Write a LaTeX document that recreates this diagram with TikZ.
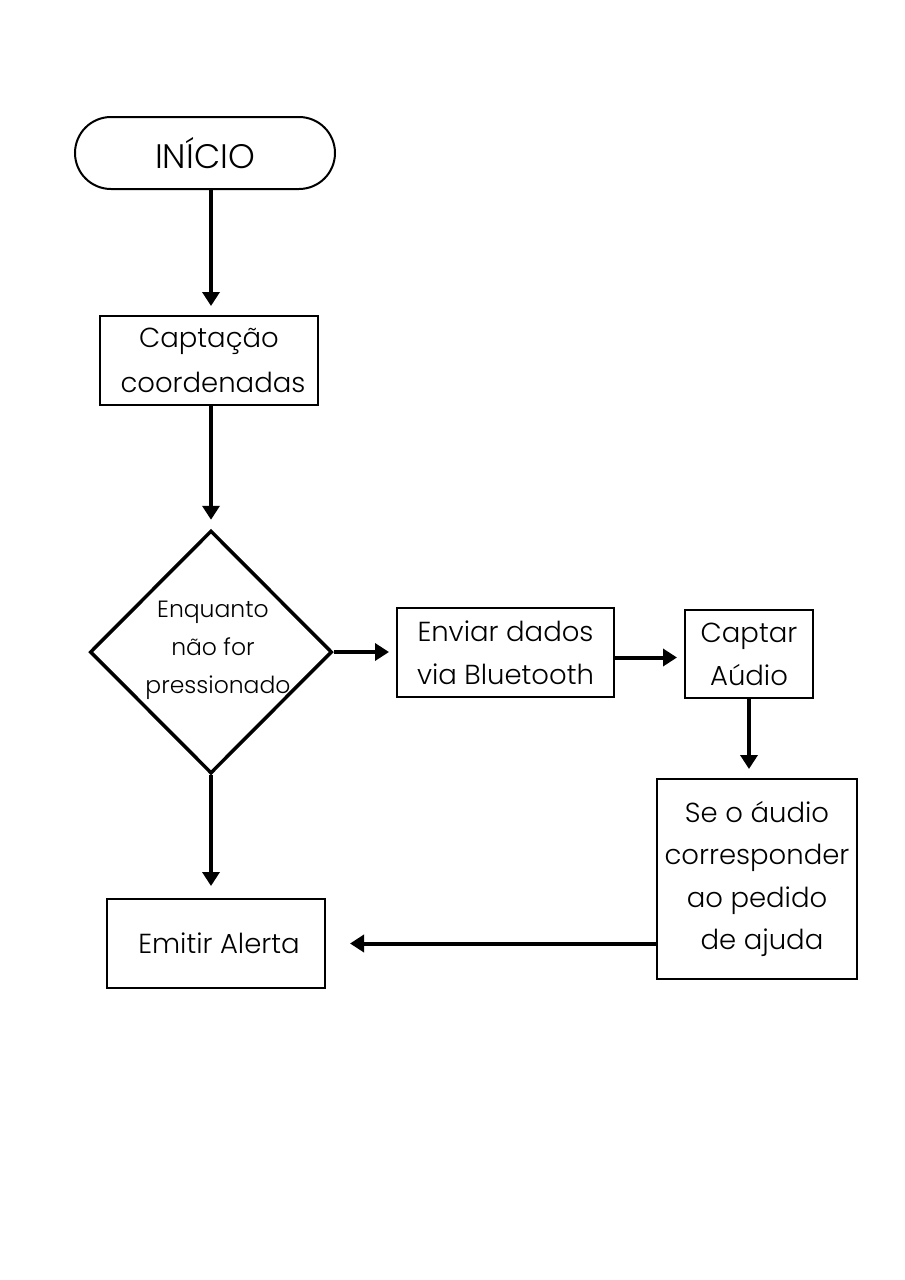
\documentclass[tikz,border=0pt]{standalone}
\usepackage{fontspec}
\setmainfont{Poppins}[UprightFont=* Light]
\usetikzlibrary{shapes.geometric,arrows.meta}
\begin{document}
\begin{tikzpicture}[x=1pt,y=-1pt,
  box/.style={draw=black,line width=2pt,rectangle,inner sep=0pt,align=center,font=\fontsize{27.5}{43}\selectfont},
  term/.style={box,rounded corners=36pt},
  dec/.style={draw=black,line width=3.5pt,diamond,aspect=1,inner sep=0pt},
  dectext/.style={align=center,inner sep=0pt,font=\fontsize{23.5}{38}\selectfont},
  conn/.style={line width=4pt,-{Triangle[length=14pt,width=17pt]},shorten >=9pt}
]
\useasboundingbox (0,0) rectangle (905,1280);
\fill[white] (0,0) rectangle (905,1280);
\node[term, minimum width=260pt, minimum height=72pt, font=\fontsize{34}{40}\selectfont] (ini) at (205,153) {INÍCIO};
\node[box, minimum width=218pt, minimum height=89pt] (cap1) at (209,360.5) {Captação\\[2pt]\hspace*{8pt}coordenadas};
\node[dec, minimum width=242pt, minimum height=243pt] (dec) at (211,652) {};
\node[dectext] (dect) at (213,650) {Enquanto\\não for\\\hspace*{10pt}pressionado};
\node[box, minimum width=217pt, minimum height=89pt] (env) at (505.5,652.5) {Enviar dados\\via Bluetooth};
\node[box, minimum width=128pt, minimum height=88pt] (cap) at (749,654) {Captar\\Aúdio};
\node[box, minimum width=200pt, minimum height=200pt, font=\fontsize{27.5}{42.5}\selectfont] (se) at (757,879) {Se o áudio\\corresponder\\ao pedido\\\hspace*{10pt}de ajuda};
\node[box, minimum width=218pt, minimum height=89pt] (emi) at (216,943.5) {\hspace*{6pt}Emitir Alerta};
\draw[conn] (ini.south -| cap1.north) ++(2pt,0) coordinate (s1) -- (s1 |- cap1.north);
\draw[conn] (cap1.south) ++(2pt,0) coordinate (s2) -- (s2 |- dec.north);
\draw[conn, shorten >=7pt] (dec.east) -- (dec.east -| env.west);
\draw[conn, shorten >=7pt] ([yshift=-5pt]env.east) -- ([yshift=-5pt]env.east -| cap.west);
\draw[conn] (cap.south) -- (cap.south |- se.north);
\draw[conn, shorten >=12pt] (dec.south) -- (dec.south |- emi.north);
\draw[conn, shorten >=24pt] (se.west |- emi.east) -- (emi.east);
\end{tikzpicture}
\end{document}
